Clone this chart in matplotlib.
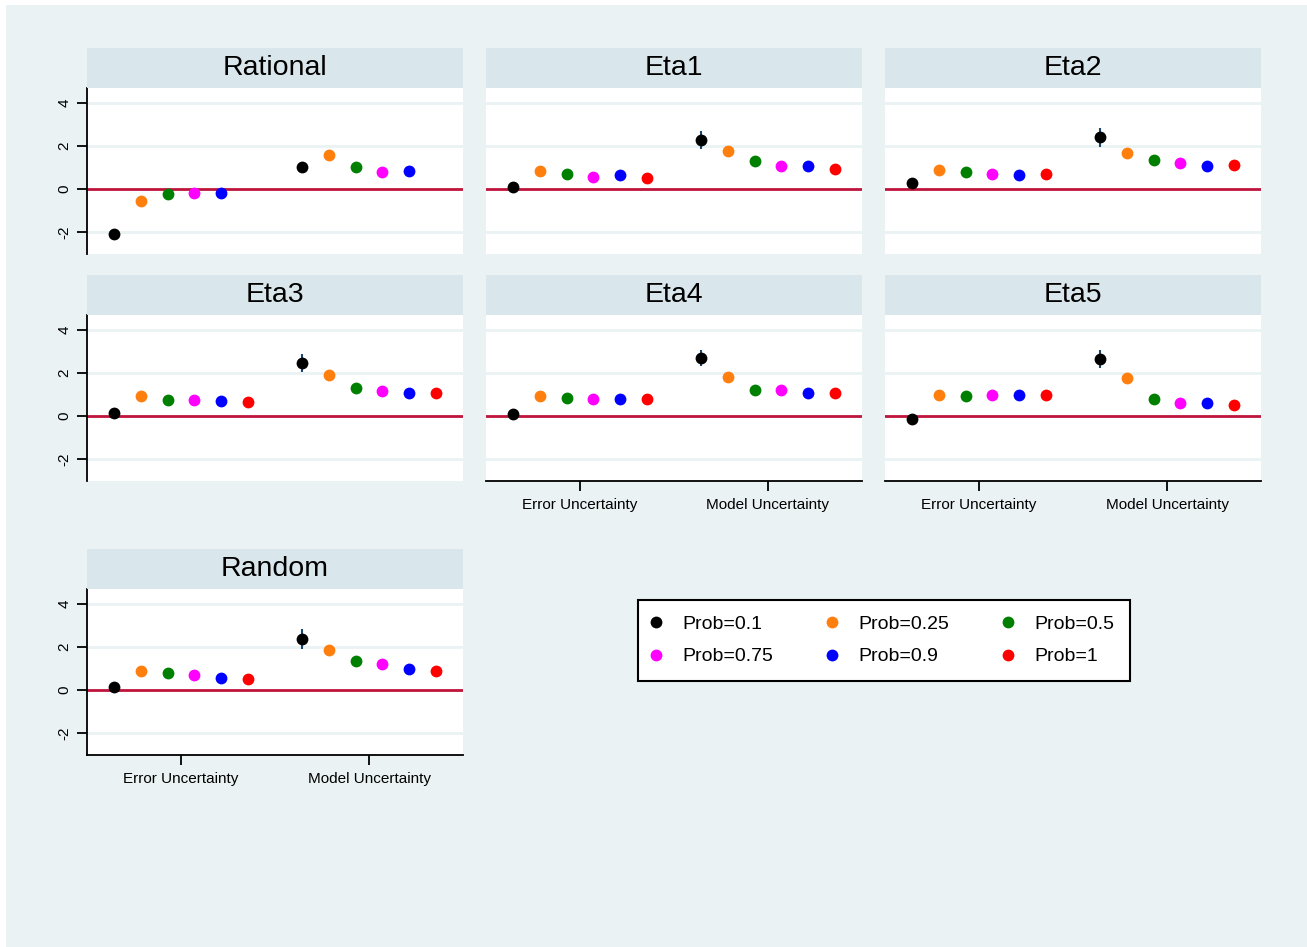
import numpy as np
import matplotlib
matplotlib.use('Agg')
import matplotlib.pyplot as plt
from matplotlib.patches import Rectangle
from matplotlib.lines import Line2D

plt.rcParams['font.family'] = ['Liberation Sans', 'DejaVu Sans']

# ------------------------------------------------
#           DATA
# ------------------------------------------------
panels = ['Rational', 'Eta1', 'Eta2', 'Eta3', 'Eta4', 'Eta5', 'Random']
groups = ['Error Uncertainty', 'Model Uncertainty']
probs = ['Prob=0.1', 'Prob=0.25', 'Prob=0.5', 'Prob=0.75', 'Prob=0.9', 'Prob=1']
colors = ['black', '#FF7F0E', 'green', 'magenta', 'blue', 'red']

# estimates, per panel: [error uncertainty x6, model uncertainty x6]
rational = [-2.10, -0.57, -0.24, -0.17, -0.19, np.nan,
            1.02, 1.60, 1.04, 0.80, 0.85, np.nan]
eta1 = [0.09, 0.86, 0.69, 0.58, 0.64, 0.52,
        2.27, 1.77, 1.30, 1.05, 1.09, 0.94]
eta2 = [0.27, 0.89, 0.78, 0.69, 0.64, 0.70,
        2.41, 1.70, 1.34, 1.19, 1.05, 1.11]
eta3 = [0.14, 0.91, 0.77, 0.75, 0.70, 0.67,
        2.47, 1.92, 1.31, 1.16, 1.09, 1.05]
eta4 = [0.11, 0.95, 0.86, 0.78, 0.80, 0.81,
        2.70, 1.83, 1.23, 1.22, 1.08, 1.09]
eta5 = [-0.14, 0.98, 0.94, 0.97, 0.97, 0.98,
        2.67, 1.75, 0.81, 0.59, 0.63, 0.50]
random_ = [0.14, 0.88, 0.79, 0.70, 0.57, 0.53,
           2.39, 1.88, 1.33, 1.19, 0.98, 0.90]
values = [rational, eta1, eta2, eta3, eta4, eta5, random_]

# 95% CI half width of the Prob=0.1 model-uncertainty estimate
ci_model = [0.05, 0.42, 0.45, 0.40, 0.38, 0.42, 0.46]

yticks = [-2, 0, 2, 4]

# ------------------------------------------------
#           LAYOUT (pixels)
# ------------------------------------------------
W, H = 1307, 947
fig = plt.figure(figsize=(W / 100, H / 100), dpi=100)
fig.patch.set_facecolor('white')
fig.add_artist(Rectangle((6 / W, 0), 1, 1 - 5 / H, transform=fig.transFigure,
                         facecolor='#EAF2F3', edgecolor='none', zorder=-10))

col_x = [87, 486, 885]
row_y = [88, 315, 589]      # top of plot area
pw, ph = 376, 166
strip_h = 40

xpos = np.array([0, 1, 2, 3, 4, 5, 7, 8, 9, 10, 11, 12], dtype=float)
grid_c = '#EAF2F3'


def px_axes(x, y, w, h):
    return fig.add_axes([x / W, 1 - (y + h) / H, w / W, h / H])


cells = [(0, 0), (0, 1), (0, 2), (1, 0), (1, 1), (1, 2), (2, 0)]
for k, (r, c) in enumerate(cells):
    x0, y0 = col_x[c], row_y[r]
    ax = px_axes(x0, y0, pw, ph)
    ax.set_xlim(-1, 13)
    ax.set_ylim(-3.02, 4.7)
    for s in ax.spines.values():
        s.set_visible(False)
    for yv in yticks:
        ax.axhline(yv, color=grid_c, lw=2, zorder=0)
    ax.axhline(0, color='#C0143C', lw=2, zorder=1)

    vals = np.array(values[k], dtype=float)
    for i in range(12):
        if np.isnan(vals[i]):
            continue
        if i == 6:
            ax.errorbar(xpos[i], vals[i], yerr=ci_model[k], fmt='none',
                        ecolor='#1A476F', elinewidth=1.5, capsize=0, zorder=2)
        ax.plot(xpos[i], vals[i], 'o', color=colors[i % 6], ms=8.5,
                mec='none', zorder=3)

    # y axis only on first column
    if c == 0:
        ax.spines['left'].set_visible(True)
        ax.spines['left'].set_linewidth(1.3)
        ax.set_yticks(yticks)
        ax.set_yticklabels([str(v) for v in yticks], rotation=90, va='center')
        ax.tick_params(axis='y', length=7, width=1.3, labelsize=11, pad=4)
    else:
        ax.set_yticks([])

    # x axis only on bottom panels
    if k in (4, 5, 6):
        ax.spines['bottom'].set_visible(True)
        ax.spines['bottom'].set_linewidth(1.3)
        ax.set_xticks([2.5, 9.5])
        ax.set_xticklabels(groups)
        ax.tick_params(axis='x', length=7, width=1.3, labelsize=11, pad=5)
    else:
        ax.set_xticks([])

    # title strip
    st = px_axes(x0, y0 - strip_h, pw, strip_h)
    st.set_facecolor('#D9E6EB')
    st.set_xticks([])
    st.set_yticks([])
    for s in st.spines.values():
        s.set_visible(False)
    st.text(0.5, 0.5, panels[k], ha='center', va='center', fontsize=20.5,
            transform=st.transAxes)

# legend (row-wise order like the original)
handles = [Line2D([], [], ls='none', marker='o', color=col, ms=8.5, mec='none')
           for col in colors]
order = [0, 3, 1, 4, 2, 5]
leg = fig.legend([handles[i] for i in order], [probs[i] for i in order],
                 ncol=3, loc='upper left',
                 bbox_to_anchor=(638 / W, 1 - 600 / H), fontsize=14,
                 frameon=True, fancybox=False, framealpha=1,
                 handletextpad=1.2, columnspacing=2.86, borderpad=0.8,
                 labelspacing=0.75, handlelength=0.3,
                 borderaxespad=0)
leg.get_frame().set_edgecolor('black')
leg.get_frame().set_facecolor('white')
leg.get_frame().set_linewidth(1.5)

fig.savefig('out.png', dpi=100, facecolor=fig.get_facecolor())
